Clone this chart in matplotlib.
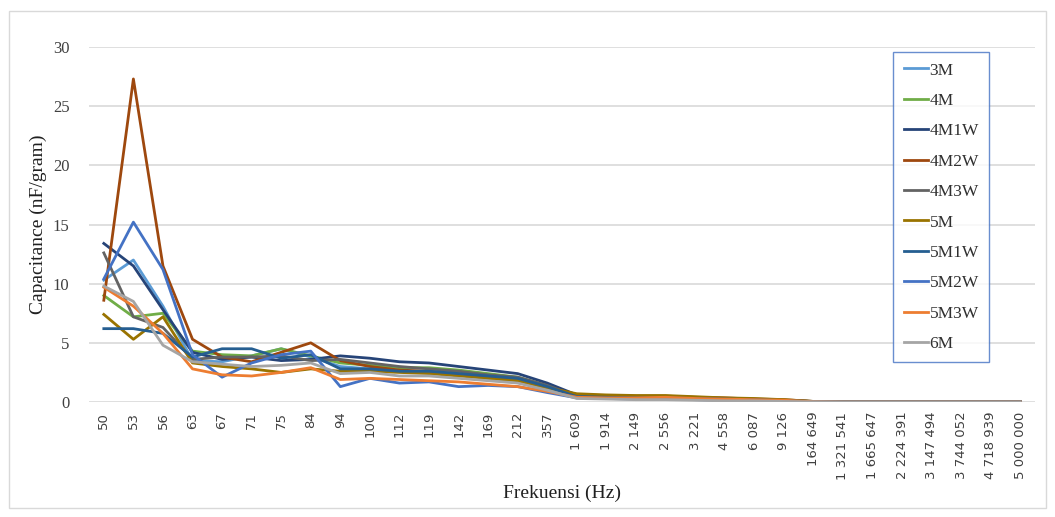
import matplotlib.pyplot as plt
from matplotlib.patches import Rectangle

# frequency categories (Hz) as printed on the x axis
freq_labels = ["50", "53", "56", "63", "67", "71", "75", "84", "94", "100", "112", "119",
               "142", "169", "212", "357", "1 609", "1 914", "2 149", "2 556", "3 221",
               "4 558", "6 087", "9 126", "164 649", "1 321 541", "1 665 647", "2 224 391",
               "3 147 494", "3 744 052", "4 718 939", "5 000 000"]

# capacitance (nF/gram)
tail0 = [0, 0, 0, 0, 0, 0, 0]
cap_3M = [10.3, 12.0, 8.1, 3.5, 3.4, 3.9, 4.5, 3.8, 3.0,
          2.8, 2.6, 2.5, 2.3, 2.0, 1.8, 1.2, 0.4, 0.35, 0.3, 0.3, 0.25, 0.2, 0.15, 0.1, 0.03] + tail0
cap_4M = [9.0, 7.2, 7.5, 4.3, 4.0, 3.9, 4.5, 3.9, 3.3,
          3.1, 2.9, 2.9, 2.7, 2.4, 2.1, 1.4, 0.5, 0.45, 0.4, 0.35, 0.3, 0.25, 0.18, 0.12, 0.04] + tail0
cap_4M1W = [13.4, 11.5, 7.8, 4.2, 3.6, 3.8, 3.5, 3.6, 3.9,
            3.7, 3.4, 3.3, 3.0, 2.7, 2.4, 1.6, 0.6, 0.5, 0.45, 0.4, 0.35, 0.3, 0.2, 0.15, 0.05] + tail0
cap_4M2W = [8.6, 27.3, 11.5, 5.3, 3.8, 3.4, 4.2, 5.0, 3.5,
            3.0, 2.7, 2.6, 2.4, 2.1, 1.9, 1.3, 0.6, 0.55, 0.5, 0.5, 0.4, 0.35, 0.25, 0.2, 0.05] + tail0
cap_4M3W = [12.6, 7.2, 6.3, 3.6, 3.8, 3.8, 3.9, 3.5, 3.6,
            3.3, 3.0, 2.8, 2.6, 2.3, 2.1, 1.4, 0.5, 0.45, 0.4, 0.35, 0.3, 0.25, 0.2, 0.12, 0.04] + tail0
cap_5M = [7.4, 5.3, 7.2, 3.3, 3.0, 2.8, 2.5, 2.8, 2.6,
          2.6, 2.5, 2.4, 2.2, 2.0, 1.8, 1.2, 0.7, 0.6, 0.55, 0.55, 0.45, 0.35, 0.3, 0.2, 0.05] + tail0
cap_5M1W = [6.2, 6.2, 5.8, 3.8, 4.5, 4.5, 3.7, 4.0, 2.8,
            2.8, 2.6, 2.6, 2.4, 2.2, 2.0, 1.3, 0.45, 0.4, 0.35, 0.35, 0.3, 0.25, 0.2, 0.12, 0.04] + tail0
cap_5M2W = [10.4, 15.2, 11.2, 4.0, 2.1, 3.3, 4.0, 4.3, 1.3,
            2.0, 1.6, 1.7, 1.3, 1.4, 1.3, 0.8, 0.35, 0.3, 0.25, 0.25, 0.2, 0.15, 0.1, 0.08, 0.02] + tail0
cap_5M3W = [9.7, 8.1, 5.8, 2.8, 2.3, 2.2, 2.5, 2.9, 1.9,
            2.0, 1.9, 1.8, 1.7, 1.5, 1.3, 0.9, 0.4, 0.35, 0.35, 0.4, 0.3, 0.25, 0.2, 0.15, 0.03] + tail0
cap_6M = [9.8, 8.5, 4.8, 3.4, 3.2, 3.0, 3.1, 3.3, 2.4,
          2.5, 2.2, 2.2, 2.0, 1.8, 1.6, 1.0, 0.3, 0.25, 0.2, 0.2, 0.15, 0.1, 0.1, 0.05, 0.02] + tail0

series = [
    ("3M", cap_3M, "#5B9BD5"),
    ("4M", cap_4M, "#70AD47"),
    ("4M1W", cap_4M1W, "#264478"),
    ("4M2W", cap_4M2W, "#9E480E"),
    ("4M3W", cap_4M3W, "#636363"),
    ("5M", cap_5M, "#997300"),
    ("5M1W", cap_5M1W, "#255E91"),
    ("5M2W", cap_5M2W, "#4472C4"),
    ("5M3W", cap_5M3W, "#ED7D31"),
    ("6M", cap_6M, "#A5A5A5"),
]

plt.rcParams['font.family'] = ['Liberation Serif', 'DejaVu Serif']

fig = plt.figure(figsize=(10.55, 5.17), dpi=100)
ax = fig.add_axes([0.0844, 0.2224, 0.8967, 0.6867])

x = list(range(len(freq_labels)))
for name, vals, col in series:
    ax.plot(x, vals, color=col, lw=2.0, label=name)

ax.set_xlim(-0.5, len(freq_labels) - 0.5)
ax.set_ylim(0, 30)
ax.set_yticks([0, 5, 10, 15, 20, 25, 30])
ax.grid(axis='y', color='#D9D9D9', lw=1.2)
ax.set_axisbelow(True)
for s in ax.spines.values():
    s.set_visible(False)
ax.tick_params(length=0)
ax.tick_params(axis='y', labelsize=12, colors='#404040', pad=14)
ax.set_xticks(x)
ax.set_xticklabels(freq_labels, rotation=90, fontsize=9.5, family='DejaVu Sans',
                   color='#404040', va='top')
ax.tick_params(axis='x', pad=7)

ax.set_ylabel("Capacitance (nF/gram)", fontsize=14, color='#202020', labelpad=4)
ax.set_xlabel("Frekuensi (Hz)", fontsize=14, color='#202020', labelpad=4)

leg = ax.legend(loc='upper left', bbox_to_anchor=(0.850, 1.0 - 5 / 355), fontsize=12.5,
                frameon=True, fancybox=False, handlelength=1.4, handletextpad=0.1,
                labelspacing=0.82, borderpad=0.6, borderaxespad=0)
leg.get_frame().set_edgecolor('#4472C4')
leg.get_frame().set_linewidth(1.0)
for t in leg.get_texts():
    t.set_color('#303030')

# light outer frame of the chart area
fig.patches.append(Rectangle((0.009, 0.017), 0.982, 0.962, transform=fig.transFigure,
                             fill=False, edgecolor='#D9D9D9', lw=1.0))

fig.savefig("out.png", dpi=100)
